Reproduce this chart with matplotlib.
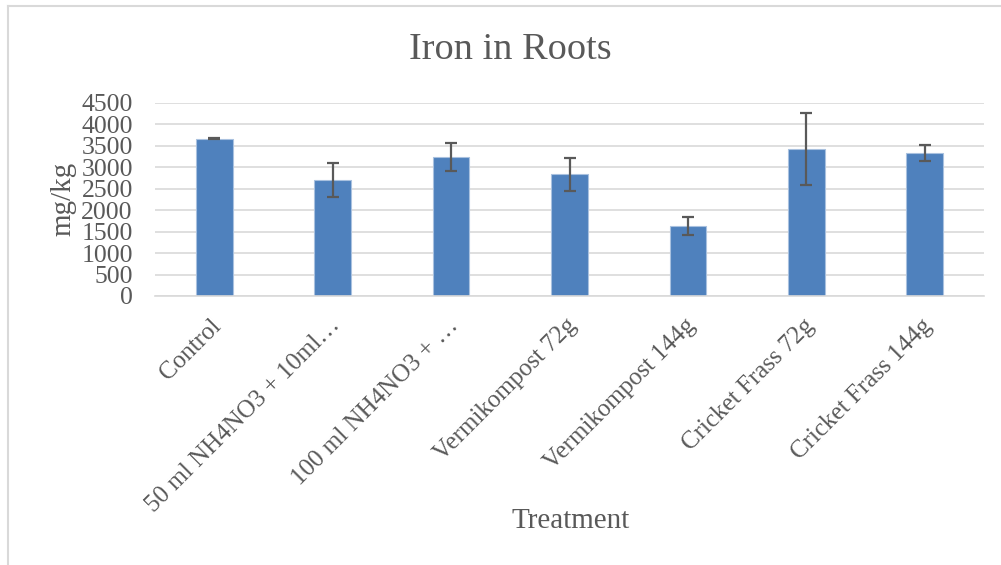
import matplotlib
matplotlib.use("Agg")
import matplotlib.pyplot as plt
from matplotlib.lines import Line2D
import matplotlib.transforms as mtransforms

categories = ["Control", "50 ml NH4NO3 + 10ml\u2026", "100 ml NH4NO3 + \u2026",
              "Vermikompost 72g", "Vermikompost 144g", "Cricket Frass 72g",
              "Cricket Frass 144g"]
values = [3665, 2690, 3235, 2830, 1630, 3415, 3330]
errors = [20, 395, 320, 380, 200, 840, 190]
yticks = [0, 500, 1000, 1500, 2000, 2500, 3000, 3500, 4000, 4500]

W, H = 1001, 565
plt.rcParams['font.family'] = ['Liberation Serif', 'DejaVu Serif']
text_color = '#595959'
grid_color = '#d9d9d9'

fig = plt.figure(figsize=(W / 100, H / 100), dpi=100)
ax = fig.add_axes([155 / W, 1 - 296 / H, (984 - 155) / W, (296 - 102.7) / H])

x = range(len(categories))
ax.bar(x, values, width=0.31, color='#4f81bd', edgecolor='#a9c1df', linewidth=0.8, zorder=2)
ax.errorbar(x, values, yerr=errors, fmt='none', ecolor='#595959', elinewidth=1.6,
            capsize=4.6, capthick=1.6, zorder=3)

ax.set_xlim(-0.5, len(categories) - 0.5)
ax.set_ylim(0, 4500)
ax.set_yticks(yticks)
ax.set_yticklabels([str(v) for v in yticks])
ax.grid(axis='y', color=grid_color, linewidth=1.2, zorder=0)
ax.set_axisbelow(True)
for s in ['top', 'right', 'left']:
    ax.spines[s].set_visible(False)
ax.spines['bottom'].set_color(grid_color)
ax.spines['bottom'].set_linewidth(1.2)
ax.tick_params(axis='both', length=0, colors=text_color)
ax.tick_params(axis='y', pad=16, labelsize=18.5)
ax.set_xticks(list(x))
ax.set_xticklabels(categories, rotation=45, ha='right', va='center',
                   rotation_mode='anchor')
ax.tick_params(axis='x', pad=19, labelsize=18)
offset = mtransforms.ScaledTranslation(4 / 100, 0, fig.dpi_scale_trans)
for lbl in ax.get_xticklabels():
    lbl.set_transform(lbl.get_transform() + offset)

fig.text(510 / W, 1 - 59.3 / H, "Iron in Roots", ha='center', va='baseline',
         fontsize=27.5, color=text_color)
fig.text(571 / W, 1 - 528 / H, "Treatment", ha='center', va='baseline',
         fontsize=21, color=text_color)
fig.text(63 / W, 1 - 199 / H, "mg/kg", ha='center', va='center', rotation=90,
         fontsize=21, color=text_color)

fig.add_artist(Line2D([7.5 / W, 1], [1 - 5.5 / H, 1 - 5.5 / H], color=grid_color,
                      linewidth=1.5, transform=fig.transFigure))
fig.add_artist(Line2D([8 / W, 8 / W], [0, 1 - 5.5 / H], color=grid_color,
                      linewidth=1.5, transform=fig.transFigure))

fig.savefig("out.png", dpi=100)
